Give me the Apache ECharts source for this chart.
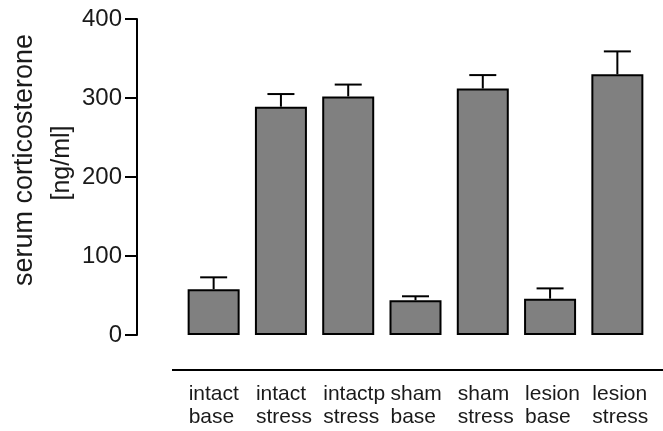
<!DOCTYPE html>
<html>
<head>
<meta charset="utf-8">
<script src="https://cdn.jsdelivr.net/npm/echarts@6/dist/echarts.min.js"></script>
<style>
html,body{margin:0;padding:0;background:#fff;}
#c{width:663px;height:431px;}
</style>
</head>
<body>
<div id="c"></div>
<script>
var categories = ['intact\nbase', 'intact\nstress', 'intactp\nstress', 'sham\nbase', 'sham\nstress', 'lesion\nbase', 'lesion\nstress'];
var means = [58, 289, 302, 44, 312, 46, 330];
var sem = [15, 16, 15, 5, 17, 13, 29];
var yTicks = [0, 100, 200, 300, 400];
var yTitle1 = 'serum corticosterone';
var yTitle2 = '[ng/ml]';

var font = '"Liberation Sans", Arial, Helvetica, sans-serif';
var errData = means.map(function (m, i) { return [i, m, m + sem[i]]; });

var chart = echarts.init(document.getElementById('c'));
chart.setOption({
  animation: false,
  backgroundColor: '#fff',
  grid: { left: 180, right: 12, top: 19, bottom: 96 },
  xAxis: {
    type: 'category',
    data: categories,
    axisLine: { show: false },
    axisTick: { show: false },
    axisLabel: {
      interval: 0,
      margin: 48,
      color: '#000',
      fontFamily: font,
      fontSize: 21,
      lineHeight: 23,
      align: 'center',
      formatter: function (v) {
        return v.split('\n').map(function (s) { return '{a|' + s + '}'; }).join('\n');
      },
      rich: { a: { width: 50, align: 'left', fontSize: 21, lineHeight: 23, fontFamily: font, color: '#1a1a1a' } }
    }
  },
  yAxis: {
    type: 'value',
    min: yTicks[0],
    max: yTicks[yTicks.length - 1],
    interval: 100,
    offset: 43,
    splitLine: { show: false },
    axisLine: { show: true, lineStyle: { color: '#000', width: 2 } },
    axisTick: { show: true, length: 12, lineStyle: { color: '#000', width: 2 } },
    axisLabel: { color: '#1a1a1a', fontFamily: font, fontSize: 24, margin: 15 }
  },
  graphic: [
    { type: 'text', x: 25, y: 160, rotation: Math.PI / 2,
      style: { text: yTitle1, font: '27px ' + font, fill: '#1a1a1a', textAlign: 'center', textVerticalAlign: 'middle' } },
    { type: 'text', x: 62, y: 163, rotation: Math.PI / 2,
      style: { text: yTitle2, font: '25px ' + font, fill: '#1a1a1a', textAlign: 'center', textVerticalAlign: 'middle' } },
    { type: 'line', shape: { x1: 172, y1: 370, x2: 663, y2: 370 }, style: { stroke: '#000', lineWidth: 2 } }
  ],
  series: [
    {
      type: 'bar',
      data: means,
      barWidth: 52,
      itemStyle: { color: '#808080', borderColor: '#000', borderWidth: 2 }
    },
    {
      type: 'custom',
      data: errData,
      encode: { x: 0, y: [1, 2] },
      z: 3,
      renderItem: function (params, api) {
        var i = api.value(0);
        var lo = api.coord([i, api.value(1)]);
        var hi = api.coord([i, api.value(2)]);
        var half = 13.5;
        var st = { stroke: '#000', lineWidth: 2 };
        return {
          type: 'group',
          children: [
            { type: 'line', shape: { x1: lo[0], y1: lo[1], x2: hi[0], y2: hi[1] }, style: st },
            { type: 'line', shape: { x1: hi[0] - half, y1: hi[1], x2: hi[0] + half, y2: hi[1] }, style: st }
          ]
        };
      }
    }
  ]
});
</script>
</body>
</html>
